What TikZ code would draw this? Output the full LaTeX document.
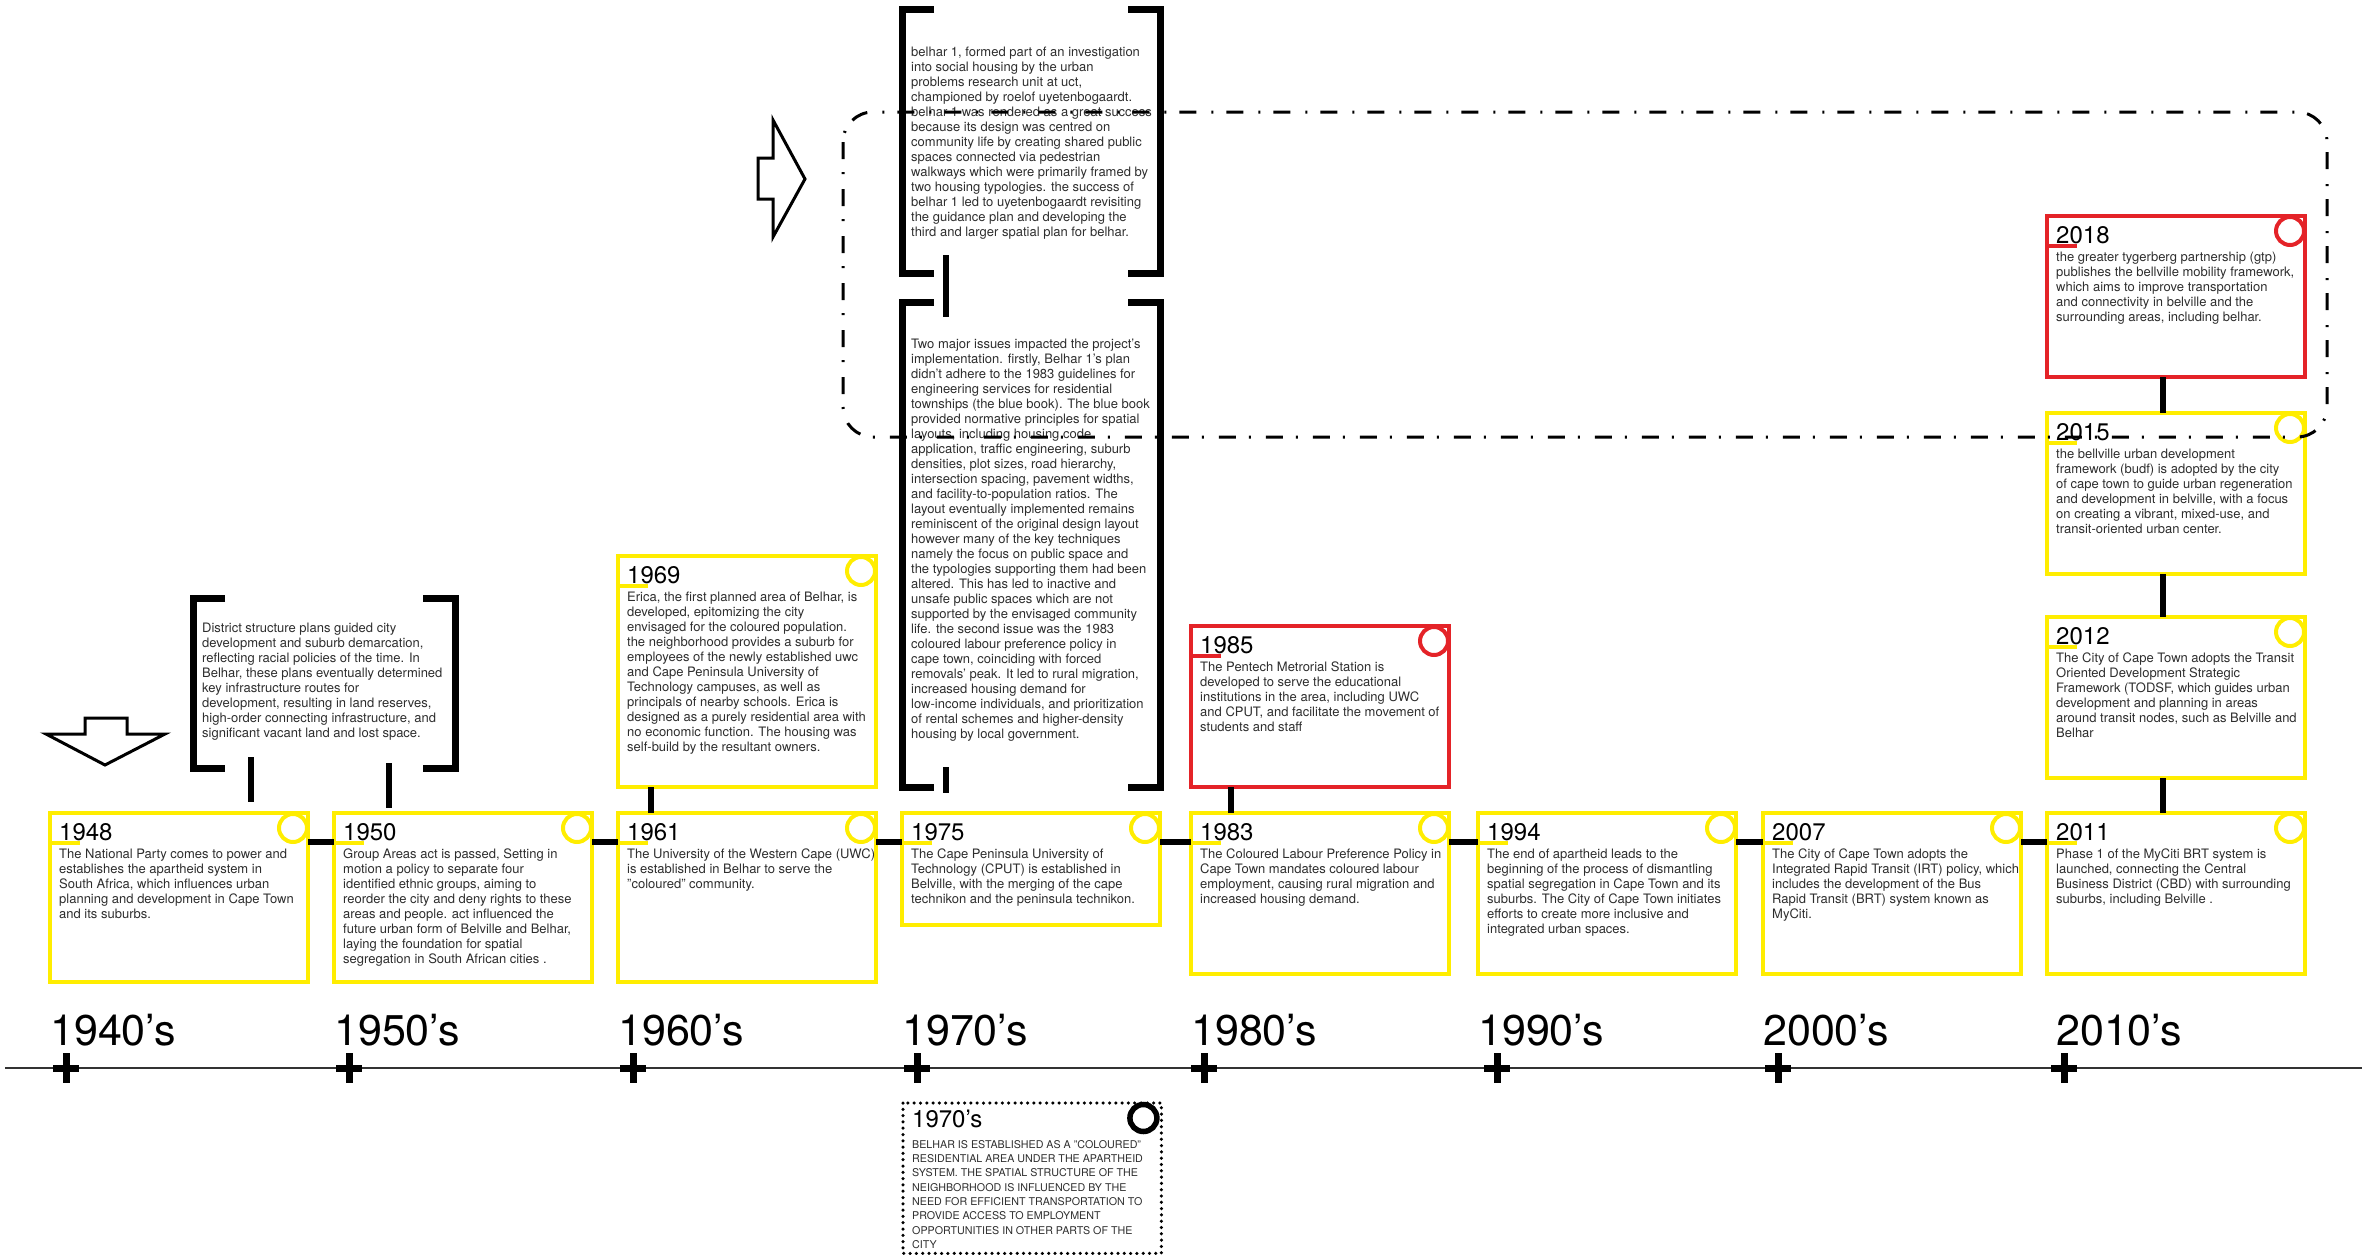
\documentclass[tikz,border=0pt]{standalone}
\usepackage{fontspec}
\setmainfont{TeX Gyre Heros}
\usetikzlibrary{positioning}

\definecolor{tlyellow}{RGB}{255,237,0}
\definecolor{tlred}{RGB}{228,35,40}
\definecolor{tltext}{RGB}{45,45,45}

\tikzset{
  evbox/.style={draw=#1, line width=4.5pt, minimum width=258pt, anchor=north west,
                inner sep=0pt, outer sep=0pt},
  yearlbl/.style={font=\fontsize{24}{26}\selectfont, inner sep=0pt, anchor=base west},
  evtext/.style={font=\fontsize{13}{15}\selectfont, text=tltext, align=left,
                 inner sep=0pt, anchor=north west},
  capstext/.style={font=\fontsize{10.7}{14.3}\selectfont, text=tltext, align=left,
                   inner sep=0pt, anchor=north west},
  decade/.style={font=\fontsize{43}{45}\selectfont, inner sep=0pt, anchor=base west},
  brk/.style={line width=7pt},
  brbox/.style={minimum width=#1, inner sep=0pt, outer sep=0pt, anchor=north west},
  link/.style={line width=6pt},
  tickmark/.style={line width=7pt},
  bigarrow/.style={line width=3pt, line join=miter},
  dashdotframe/.style={line width=3pt, rounded corners=30pt,
                       dash pattern=on 17pt off 13pt on 2pt off 15pt},
  dotframe/.style={line width=3.5pt, line cap=round, dash pattern=on 0pt off 6.3pt}
}

\begin{document}
\begin{tikzpicture}[x=1pt, y=-1pt]
  \useasboundingbox (0,0) rectangle (2369,1255);

  % event boxes
  \foreach \n/\x/\y/\h/\c/\t in {
    1948/50/813/169/tlyellow/{The National Party comes to power and\\establishes the apartheid system in\\South Africa, which influences urban\\planning and development in Cape Town\\and its suburbs.},
    1950/334/813/169/tlyellow/{Group Areas act is passed, Setting in\\motion a policy to separate four\\identified ethnic groups, aiming to\\reorder the city and deny rights to these\\areas and people. act influenced the\\future urban form of Belville and Belhar,\\laying the foundation for spatial\\segregation in South African cities .},
    1961/618/813/169/tlyellow/{The University of the Western Cape (UWC)\\is established in Belhar to serve the\\"coloured" community.},
    1969/618/556/231/tlyellow/{Erica, the first planned area of Belhar, is\\developed, epitomizing the city\\envisaged for the coloured population.\\the neighborhood provides a suburb for\\employees of the newly established uwc\\and Cape Peninsula University of\\Technology campuses, as well as\\principals of nearby schools. Erica is\\designed as a purely residential area with\\no economic function. The housing was\\self-build by the resultant owners.},
    1975/902/813/112/tlyellow/{The Cape Peninsula University of\\Technology (CPUT) is established in\\Belville, with the merging of the cape\\technikon and the peninsula technikon.},
    1983/1191/813/161/tlyellow/{The Coloured Labour Preference Policy in\\Cape Town mandates coloured labour\\employment, causing rural migration and\\increased housing demand.},
    1985/1191/626/161/tlred/{The Pentech Metrorial Station is\\developed to serve the educational\\institutions in the area, including UWC\\and CPUT, and facilitate the movement of\\students and staff},
    1994/1478/813/161/tlyellow/{The end of apartheid leads to the\\beginning of the process of dismantling\\spatial segregation in Cape Town and its\\suburbs. The City of Cape Town initiates\\efforts to create more inclusive and\\integrated urban spaces.},
    2007/1763/813/161/tlyellow/{The City of Cape Town adopts the\\Integrated Rapid Transit (IRT) policy, which\\includes the development of the Bus\\Rapid Transit (BRT) system known as\\MyCiti.},
    2011/2047/813/161/tlyellow/{Phase 1 of the MyCiti BRT system is\\launched, connecting the Central\\Business District (CBD) with surrounding\\suburbs, including Belville .},
    2012/2047/617/161/tlyellow/{The City of Cape Town adopts the Transit\\Oriented Development Strategic\\Framework (TODSF, which guides urban\\development and planning in areas\\around transit nodes, such as Belville and\\Belhar},
    2015/2047/413/161/tlyellow/{the bellville urban development\\framework (budf) is adopted by the city\\of cape town to guide urban regeneration\\and development in belville, with a focus\\on creating a vibrant, mixed-use, and\\transit-oriented urban center.},
    2018/2047/216/161/tlred/{the greater tygerberg partnership (gtp)\\publishes the bellville mobility framework,\\which aims to improve transportation\\and connectivity in belville and the\\surrounding areas, including belhar.}}
  {
    \node[evbox=\c, minimum height=\h pt] (b\n) at (\x,\y) {};
    \node[yearlbl] (y\n) at ([xshift=9pt,yshift=-27pt]b\n.north west) {\n};
    \draw[\c, line width=3.5pt] ([yshift=-30pt]b\n.north west) -- ++(30pt,0pt);
    \draw[\c, line width=4pt] ([xshift=-15pt,yshift=-15pt]b\n.north east) circle[radius=14pt];
    \node[evtext] (t\n) at ([xshift=9pt,yshift=-36pt]b\n.north west) {\t};
  }

  % links along the row
  \foreach \a/\b in {1948/1950, 1950/1961, 1961/1975, 1975/1983, 1983/1994, 1994/2007, 2007/2011}
    \draw[link] ([yshift=-29pt]b\a.north east) -- ([yshift=-29pt]b\b.north west);
  % links upwards
  \draw[link] ([xshift=33pt]b1961.north west) -- ([xshift=33pt]b1969.south west);
  \draw[link] ([xshift=40pt]b1983.north west) -- ([xshift=40pt]b1985.south west);
  \foreach \a/\b in {2011/2012, 2012/2015, 2015/2018}
    \draw[link] ([xshift=116pt]b\a.north west) -- ([xshift=116pt]b\b.south west);

  % bracketed notes
  \node[brbox=262pt, minimum height=170pt] (brD) at (193,598) {};
  \node[brbox=258pt, minimum height=263pt] (brA) at (902,10) {};
  \node[brbox=258pt, minimum height=485pt] (brB) at (902,302) {};
  \foreach \br in {brD, brA, brB} {
    \draw[brk] ([xshift=32pt]\br.north west) -| (\br.south west) -- ++(32pt,0pt);
    \draw[brk] ([xshift=-32pt]\br.north east) -| (\br.south east) -- ++(-32pt,0pt);
  }
  \node[evtext] (tD) at ([xshift=9pt,yshift=-25pt]brD.north west)
    {District structure plans guided city\\development and suburb demarcation,\\reflecting racial policies of the time. In\\Belhar, these plans eventually determined\\key infrastructure routes for\\development, resulting in land reserves,\\high-order connecting infrastructure, and\\significant vacant land and lost space.};
  \node[evtext] (tA) at ([xshift=9pt,yshift=-37pt]brA.north west)
    {belhar 1, formed part of an investigation\\into social housing by the urban\\problems research unit at uct,\\championed by roelof uyetenbogaardt.\\belhar 1 was rendered as a great success\\because its design was centred on\\community life by creating shared public\\spaces connected via pedestrian\\walkways which were primarily framed by\\two housing typologies. the success of\\belhar 1 led to uyetenbogaardt revisiting\\the guidance plan and developing the\\third and larger spatial plan for belhar.};
  \node[evtext] (tB) at ([xshift=9pt,yshift=-37pt]brB.north west)
    {Two major issues impacted the project's\\implementation. firstly, Belhar 1's plan\\didn't adhere to the 1983 guidelines for\\engineering services for residential\\townships (the blue book). The blue book\\provided normative principles for spatial\\layouts, including housing code\\application, traffic engineering, suburb\\densities, plot sizes, road hierarchy,\\intersection spacing, pavement widths,\\and facility-to-population ratios. The\\layout eventually implemented remains\\reminiscent of the original design layout\\however many of the key techniques\\namely the focus on public space and\\the typologies supporting them had been\\altered. This has led to inactive and\\unsafe public spaces which are not\\supported by the envisaged community\\life. the second issue was the 1983\\coloured labour preference policy in\\cape town, coinciding with forced\\removals' peak. It led to rural migration,\\increased housing demand for\\low-income individuals, and prioritization\\of rental schemes and higher-density\\housing by local government.};
  \draw[link] ([xshift=58pt,yshift=11pt]brD.south west) -- ([xshift=58pt,yshift=11pt]brD.south west |- b1948.north);
  \draw[link] ([xshift=196pt,yshift=5pt]brD.south west) -- ([xshift=196pt,yshift=5pt]brD.south west |- b1950.north);
  \draw[link] ([xshift=44pt,yshift=18pt]brA.south west) -- ([xshift=44pt,yshift=-15pt]brB.north west);
  \draw[link] ([xshift=44pt,yshift=20pt]brB.south west) -- ([xshift=44pt,yshift=20pt]brB.south west |- b1975.north);

  % axis
  \coordinate (axL) at (5,1068);
  \coordinate (axR) at (2362,1068);
  \draw[line width=2pt, black!80] (axL) -- (axR);
  \foreach \d/\x/\px in {1940/50/66, 1950/334/349, 1960/618/633, 1970/902/917,
                         1980/1191/1204, 1990/1478/1497, 2000/1763/1778, 2010/2056/2064} {
    \node[decade] (d\d) at (\x,1045) {\d’s};
    \coordinate (m\d) at (\px,1068);
    \draw[tickmark] ([yshift=15pt]m\d) -- ([yshift=-15pt]m\d)
                    ([xshift=-13pt]m\d) -- ([xshift=13pt]m\d);
  }

  % 1970's note below the axis
  \node[minimum width=258pt, minimum height=150pt, inner sep=0pt, anchor=north west]
    (b70) at (903,1103) {};
  \draw[dotframe] (b70.north west) rectangle (b70.south east);
  \draw[line width=5.5pt] ([xshift=-18pt,yshift=-15pt]b70.north east) circle[radius=13.5pt];
  \node[yearlbl] (y70) at ([xshift=9pt,yshift=-24pt]b70.north west) {1970’s};
  \node[capstext] (t70) at ([xshift=9pt,yshift=-37pt]b70.north west)
    {BELHAR IS ESTABLISHED AS A "COLOURED"\\RESIDENTIAL AREA UNDER THE APARTHEID\\SYSTEM. THE SPATIAL STRUCTURE OF THE\\NEIGHBORHOOD IS INFLUENCED BY THE\\NEED FOR EFFICIENT TRANSPORTATION TO\\PROVIDE ACCESS TO EMPLOYMENT\\OPPORTUNITIES IN OTHER PARTS OF THE\\CITY};

  % arrows
  \draw[bigarrow] (85,718) -- (127,718) -- (127,734) -- (165,734) -- (105,765)
                  -- (46,734) -- (85,734) -- cycle;
  \draw[bigarrow] (758,158) -- (773,158) -- (773,120) -- (805,179) -- (773,237)
                  -- (773,199) -- (758,199) -- cycle;

  % dash-dot frame over the upper area
  \draw[dashdotframe] (843,112) rectangle (2327,437);
\end{tikzpicture}
\end{document}
